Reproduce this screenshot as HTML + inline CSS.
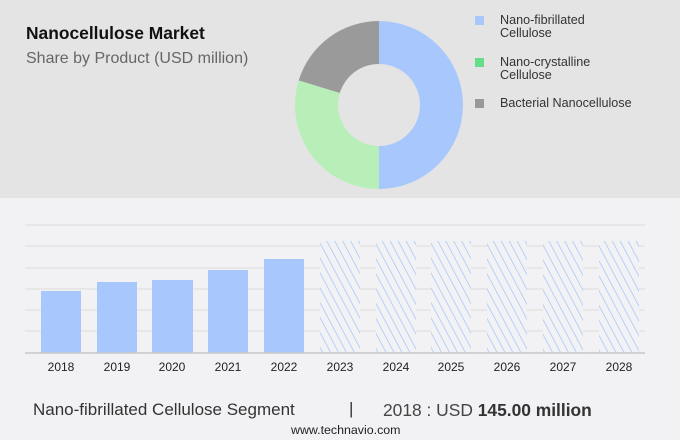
<!DOCTYPE html>
<html><head><style>
body{margin:0;width:680px;height:440px;overflow:hidden;background:#f2f2f4;font-family:"Liberation Sans",sans-serif;position:relative}
.top{position:absolute;left:0;top:0;width:680px;height:198px;background:#e4e4e4}
.t{position:absolute;white-space:nowrap}
</style></head><body>
<div class="top"></div>
<div class="t" style="left:26px;top:23px;font-size:17.4px;font-weight:bold;color:#111">Nanocellulose Market</div>
<div class="t" style="left:26px;top:50px;font-size:16px;color:#666">Share by Product (USD million)</div>
<svg width="680" height="440" style="position:absolute;left:0;top:0">
<defs><pattern id="h" width="7" height="7" patternUnits="userSpaceOnUse" patternTransform="rotate(-28)"><rect width="7" height="7" fill="#f2f2f4"/><line x1="0" y1="0" x2="0" y2="7" stroke="#a8c8fa" stroke-width="1.6"/></pattern></defs>
<path d="M379 21 A84 84 0 0 1 379 189 L379 146 A41 41 0 0 0 379 64Z" fill="#a8c8fd"/>
<path d="M379 189 A84 84 0 0 1 298.7 80.4 L339.8 93 A41 41 0 0 0 379 146Z" fill="#b8eeb8"/>
<path d="M298.7 80.4 A84 84 0 0 1 379 21 L379 64 A41 41 0 0 0 339.8 93Z" fill="#9a9a9a"/>
<rect x="475" y="16" width="9" height="9" fill="#a8c8fd"/>
<rect x="475" y="58" width="9" height="9" fill="#66dd88"/>
<rect x="475" y="99" width="9" height="9" fill="#999"/>
<g font-size="12.6" fill="#333" font-family="Liberation Sans,sans-serif">
<text x="500" y="24">Nano-fibrillated</text><text x="500" y="37">Cellulose</text>
<text x="500" y="66">Nano-crystalline</text><text x="500" y="79">Cellulose</text>
<text x="500" y="107">Bacterial Nanocellulose</text>
</g>
<g stroke="#dcdcdc" stroke-width="1">
<line x1="25" x2="645" y1="225" y2="225"/><line x1="25" x2="645" y1="246" y2="246"/><line x1="25" x2="645" y1="268" y2="268"/><line x1="25" x2="645" y1="289" y2="289"/><line x1="25" x2="645" y1="310" y2="310"/><line x1="25" x2="645" y1="331" y2="331"/>
</g>
<g fill="#a8c8fd">
<rect x="41" y="291" width="40" height="62"/><rect x="97" y="282" width="40" height="71"/><rect x="152" y="280" width="41" height="73"/><rect x="208" y="270" width="40" height="83"/><rect x="264" y="259" width="40" height="94"/>
</g>
<g fill="url(#h)">
<rect x="320" y="241" width="40" height="112"/><rect x="376" y="241" width="40" height="112"/><rect x="431" y="241" width="40" height="112"/><rect x="487" y="241" width="40" height="112"/><rect x="543" y="241" width="40" height="112"/><rect x="599" y="241" width="40" height="112"/>
</g>
<line x1="25" x2="645" y1="353" y2="353" stroke="#c8c8c8" stroke-width="1.5"/>
<g font-size="12" fill="#222" text-anchor="middle" font-family="Liberation Sans,sans-serif">
<text x="61" y="371">2018</text><text x="117" y="371">2019</text><text x="172" y="371">2020</text><text x="228" y="371">2021</text><text x="284" y="371">2022</text><text x="340" y="371">2023</text><text x="396" y="371">2024</text><text x="451" y="371">2025</text><text x="507" y="371">2026</text><text x="563" y="371">2027</text><text x="619" y="371">2028</text>
</g>
</svg>
<div class="t" style="left:33px;top:400px;font-size:17px;color:#333">Nano-fibrillated Cellulose Segment</div>
<div class="t" style="left:349px;top:399px;font-size:17px;color:#333">|</div>
<div class="t" style="left:383px;top:400px;font-size:17.4px;color:#444">2018 : USD <b style="color:#333">145.00 million</b></div>
<div class="t" style="left:291px;top:423px;font-size:12.4px;color:#222">www.technavio.com</div>
</body></html>
